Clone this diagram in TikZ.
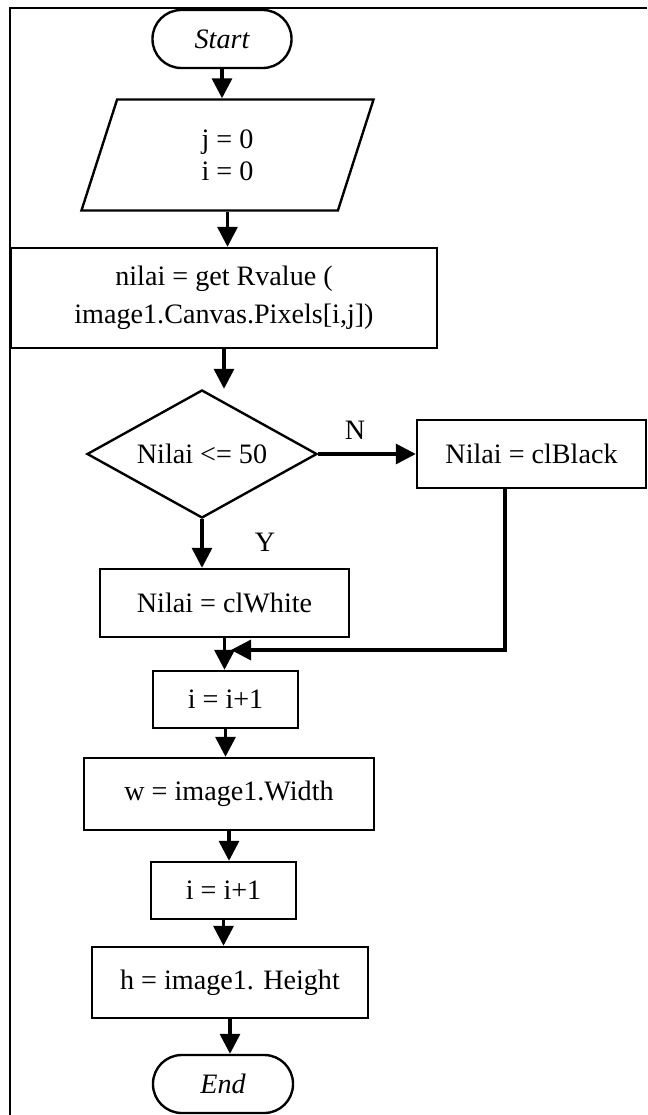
\documentclass[tikz,border=0pt]{standalone}
\usepackage{fontspec}
\setmainfont{Liberation Serif}
\usetikzlibrary{arrows.meta,shapes.geometric}

\begin{document}
\begin{tikzpicture}[x=0.025cm, y=-0.025cm,
  >={Triangle[length=0.5cm, width=0.5cm]},
  teks/.style={font=\fontsize{20}{27}\selectfont},
  kotak/.style={teks, draw, line width=1.7pt, inner sep=2pt, align=center},
  ujung/.style={kotak, rounded corners=0.72cm, font=\fontsize{20}{27}\selectfont\itshape},
  garis/.style={->, line width=2.4pt}]

  % --- 1. bingkai ---
  \useasboundingbox (0,0) rectangle (647,1115);
  \draw[line width=1.5pt] (647,8) -- (10,8) -- (10,1115);

  % --- 2. mulai dan inisialisasi ---
  \node[ujung, minimum width=3.475cm, minimum height=1.45cm] (mulai) at (222,39) {Start};
  \node[kotak, trapezium, trapezium left angle=72, trapezium right angle=108,
        trapezium stretches body, inner ysep=0.73cm, minimum width=7.3cm, minimum height=2.775cm,
        font=\fontsize{20}{23}\selectfont] (awal) at (227.5,155) {j = 0\\i = 0};

  % --- 3. ambil nilai piksel ---
  \node[kotak, minimum width=10.65cm, minimum height=2.5cm] (nilai) at (224,298)
       {nilai = get Rvalue (\\image1.Canvas.Pixels[i,j])};

  % --- 4. percabangan ---
  \node[kotak, diamond, aspect=1.8, inner sep=0pt, minimum width=5.75cm, minimum height=3.2cm]
       (cek) at (202,454) {Nilai <= 50};
  \node[kotak, minimum width=5.725cm, minimum height=1.7cm] (hitam) at (531.5,454) {Nilai = clBlack};
  \node[kotak, minimum width=6.225cm, minimum height=1.7cm] (putih) at (224.5,603) {Nilai = clWhite};
  \node[teks] (labelN) at (355,430) {N};
  \node[teks] (labelY) at (265,542) {Y};

  % --- 5. proses akhir ---
  \node[kotak, minimum width=3.625cm, minimum height=1.425cm] (tambahi) at (225.5,699.5) {i = i+1};
  \node[kotak, minimum width=7.25cm, minimum height=1.8cm] (lebar) at (229,794) {w = image1.Width};
  \node[kotak, minimum width=3.625cm, minimum height=1.425cm] (tambahii) at (223.5,890.5) {i = i+1};
  \node[kotak, minimum width=6.9cm, minimum height=1.775cm] (tinggi) at (230,982.5) {h = image1. Height};
  \node[ujung, minimum width=3.5cm, minimum height=1.45cm] (selesai) at (223,1084) {End};

  % --- 6. panah ---
  \draw[garis] (mulai.south) -- (mulai.south |- awal.north);
  \draw[garis] (awal.south) -- (awal.south |- nilai.north);
  \draw[garis] (nilai.south) -- (nilai.south |- cek.north);
  \draw[garis] (cek.east) -- (hitam.west);
  \draw[garis] (cek.south) -- (cek.south |- putih.north);
  \draw[garis] (putih.south) -- (putih.south |- tambahi.north);

  % jalur N kembali ke alur utama
  \coordinate (belok) at (505,650);
  \coordinate (masuk) at (231,650);
  \draw[garis] (hitam.south -| belok) |- (masuk);

  \draw[garis] (tambahi.south) -- (tambahi.south |- lebar.north);
  \draw[garis] (lebar.south) -- (lebar.south |- tambahii.north);
  \draw[garis] (tambahii.south) -- (tambahii.south |- tinggi.north);
  \draw[garis] (tinggi.south) -- (tinggi.south |- selesai.north);

\end{tikzpicture}
\end{document}
